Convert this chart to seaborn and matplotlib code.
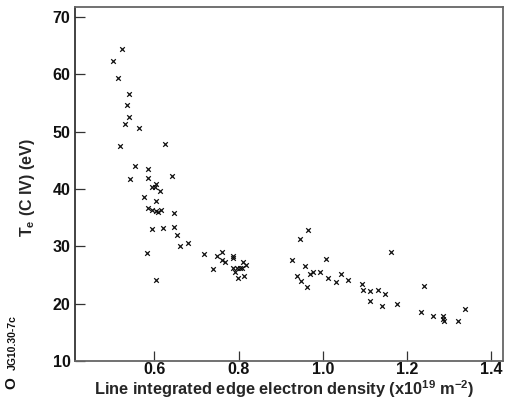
import matplotlib
matplotlib.use("Agg")
import matplotlib.pyplot as plt
import seaborn as sns
import pandas as pd

density = [
    0.523, 0.501, 0.513, 0.540, 0.536, 0.540, 0.530, 0.564,
    0.518, 0.625, 0.555, 0.586, 0.542, 0.584, 0.643, 0.603,
    0.595, 0.602, 0.614, 0.575, 0.603, 0.585, 0.595, 0.603,
    0.610, 0.615, 0.646, 0.595, 0.620, 0.646, 0.653, 0.661,
    0.681, 0.582, 0.604, 0.717, 0.748, 0.760, 0.761, 0.767,
    0.739, 0.788, 0.788, 0.811, 0.817, 0.788, 0.796, 0.803,
    0.809, 0.792, 0.799, 0.812,
    0.926, 0.945, 0.965, 0.958, 0.939, 0.948, 0.963, 0.969,
    0.977, 0.993, 1.007, 1.012, 1.031, 1.043, 1.061, 1.094,
    1.095, 1.112, 1.132, 1.148, 1.112, 1.140, 1.163, 1.176,
    1.241, 1.233, 1.263, 1.285, 1.286, 1.289, 1.321, 1.339,
]
te = [
    64.5, 62.4, 59.4, 56.5, 54.7, 52.6, 51.4, 50.6,
    47.5, 47.9, 44.0, 43.5, 41.8, 41.9, 42.3, 40.8,
    40.3, 40.4, 39.6, 38.6, 37.9, 36.7, 36.3, 36.2,
    36.0, 36.3, 35.9, 33.1, 33.2, 33.3, 31.9, 30.0,
    30.5, 28.8, 24.2, 28.6, 28.3, 29.0, 27.7, 27.3,
    26.0, 28.3, 28.0, 27.3, 26.8, 26.15, 26.3, 26.15,
    26.25, 25.6, 24.4, 24.9,
    27.7, 31.3, 32.8, 26.5, 24.9, 23.9, 22.9, 25.2,
    25.6, 25.5, 27.8, 24.5, 23.7, 25.1, 24.1, 23.5,
    22.3, 22.2, 22.3, 21.7, 20.5, 19.6, 29.0, 19.9,
    23.0, 18.5, 17.9, 17.8, 17.4, 17.0, 17.0, 19.1,
]
x_ticks = [0.6, 0.8, 1.0, 1.2, 1.4]
y_ticks = [10, 20, 30, 40, 50, 60, 70]

df = pd.DataFrame({"density": density, "te": te})

sns.set_style("ticks")
plt.rcParams["font.family"] = ["Liberation Sans", "DejaVu Sans"]
plt.rcParams["mathtext.fontset"] = "custom"
plt.rcParams["mathtext.rm"] = "Liberation Sans:bold"
plt.rcParams["mathtext.it"] = "Liberation Sans:bold"
plt.rcParams["mathtext.bf"] = "Liberation Sans:bold"
plt.rcParams["text.color"] = "#111111"

fig = plt.figure(figsize=(5.06, 3.99), dpi=100)
ax = fig.add_axes([0.1476, 0.0952, 0.8464, 0.8880])

sns.scatterplot(data=df, x="density", y="te", marker="x", color="#111111",
                s=11, linewidth=0.9, ax=ax, legend=False)

ax.set_xlim(0.411, 1.428)
ax.set_ylim(10, 71.8)
ax.set_xticks(x_ticks)
ax.set_yticks(y_ticks)
ax.set_xticklabels([f"{v:.1f}" for v in x_ticks], fontweight="bold", fontsize=11.5)
ax.set_yticklabels([str(v) for v in y_ticks], fontweight="bold", fontsize=11.5)
ax.tick_params(direction="in", length=7, width=0.9, color="#333333",
               labelcolor="#111111")
ax.tick_params(axis="x", pad=1)
ax.tick_params(axis="y", pad=3)

for side in ["top", "right", "bottom"]:
    ax.spines[side].set_color("#666666")
    ax.spines[side].set_linewidth(1.3)
ax.spines["left"].set_color("#222222")
ax.spines["left"].set_linewidth(1.2)

ax.set_xlabel(r"Line integrated edge electron density (x10$^{19}$ m$^{-2}$)",
              fontweight="bold", fontsize=11.8)
ax.xaxis.set_label_coords(0.49, -0.05)
ax.set_ylabel(r"T$_{\rm e}$ (C IV) (eV)", fontweight="bold", fontsize=11.5)
ax.yaxis.set_label_coords(-0.088, 0.49)

fig.text(0.022, 0.025, "O", rotation=90, fontweight="bold", fontsize=11,
         ha="center", va="bottom")
fig.text(0.026, 0.072, "JG10.30-7c", rotation=90, fontweight="bold", fontsize=7.5,
         ha="center", va="bottom")

fig.savefig("out.png", dpi=100)
